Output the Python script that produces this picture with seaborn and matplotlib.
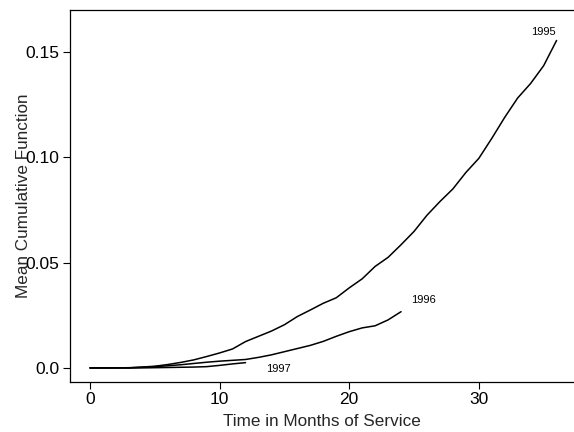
import numpy as np
import pandas as pd
import matplotlib
matplotlib.use("Agg")
import matplotlib.pyplot as plt
import seaborn as sns

# Mean cumulative function by model year, months of service
months_1995 = list(range(0, 37))
mcf_1995 = [0.0, 0.0, 0.0, 0.0, 0.0004, 0.0008, 0.0016, 0.0026, 0.0038, 0.0054,
            0.0071, 0.0090, 0.0125, 0.0150, 0.0175, 0.0205, 0.0244, 0.0275, 0.0307,
            0.0333, 0.0380, 0.0423, 0.0482, 0.0525, 0.0585, 0.0648, 0.0725, 0.0790,
            0.0850, 0.0928, 0.0995, 0.1090, 0.1190, 0.1282, 0.1351, 0.1435, 0.1555]

months_1996 = list(range(0, 25))
mcf_1996 = [0.0, 0.0, 0.0, 0.0001, 0.0003, 0.0006, 0.0010, 0.0015, 0.0021, 0.0027,
            0.0032, 0.0036, 0.0040, 0.0050, 0.0062, 0.0077, 0.0092, 0.0107, 0.0126,
            0.0150, 0.0172, 0.0190, 0.0200, 0.0228, 0.0267]

months_1997 = list(range(0, 13))
mcf_1997 = [0.0, 0.0, 0.0, 0.0, 0.0, 0.0001, 0.0002, 0.0003, 0.0004, 0.0006,
            0.0012, 0.0019, 0.0025]

years = ["1995", "1996", "1997"]
label_x = [35.0, 25.7, 14.5]
label_y = [0.1596, 0.0323, -0.0005]

x_ticks = [0, 10, 20, 30]
y_ticks = [0.0, 0.05, 0.10, 0.15]
y_ticklabels = ["0.0", "0.05", "0.10", "0.15"]

df = pd.concat([
    pd.DataFrame({"month": months_1995, "mcf": mcf_1995, "year": "1995"}),
    pd.DataFrame({"month": months_1996, "mcf": mcf_1996, "year": "1996"}),
    pd.DataFrame({"month": months_1997, "mcf": mcf_1997, "year": "1997"}),
])

sns.set_style("ticks")
plt.rcParams["font.family"] = ["Liberation Sans", "DejaVu Sans"]

fig = plt.figure(figsize=(5.74, 4.32), dpi=100)
ax = fig.add_axes([0.122, 0.116, 0.877, 0.861])

sns.lineplot(data=df, x="month", y="mcf", hue="year", units="year",
             estimator=None, palette={y: "black" for y in years},
             linewidth=1.1, legend=False, ax=ax)

for yr, lx, ly in zip(years, label_x, label_y):
    ax.text(lx, ly, yr, fontsize=8, ha="center", va="center", color="black")

ax.set_xlim(-1.54, 37.3)
ax.set_ylim(-0.00664, 0.170)
ax.set_xticks(x_ticks)
ax.set_xticklabels([str(t) for t in x_ticks])
ax.set_yticks(y_ticks)
ax.set_yticklabels(y_ticklabels)
ax.tick_params(axis="both", labelsize=12.5, length=5, width=0.8,
               color="black", labelcolor="black", pad=2.5)
ax.set_xlabel("Time in Months of Service", fontsize=12.3)
ax.set_ylabel("Mean Cumulative Function", fontsize=12.3)
ax.xaxis.set_label_coords(0.5, -0.087)
ax.yaxis.set_label_coords(-0.078, 0.5)

for side in ["left", "bottom", "top"]:
    ax.spines[side].set_color("black")
    ax.spines[side].set_linewidth(0.9)
ax.spines["right"].set_visible(False)

fig.savefig("out.png", dpi=100)
